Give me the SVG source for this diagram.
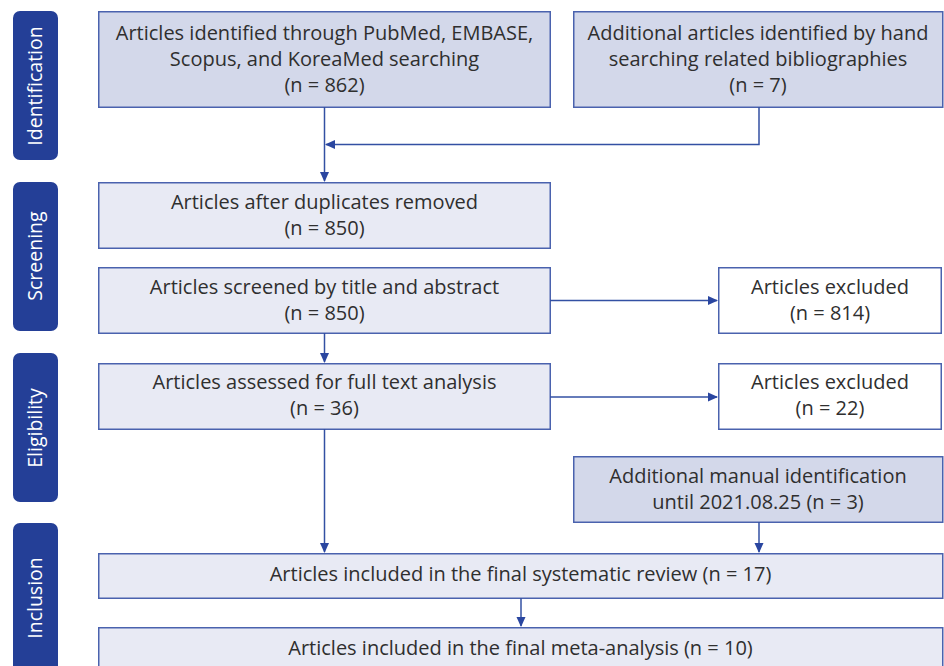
<svg xmlns="http://www.w3.org/2000/svg" width="944" height="666" viewBox="0 0 944 666">
<style>
.phase{fill:#243f97}
.ptxt{fill:#ffffff;font-family:"Open Sans","Liberation Sans",sans-serif;font-size:19.5px;text-anchor:middle}
.dark{fill:#d3d8ea;stroke:#4a62ae;stroke-width:1.5}
.light{fill:#e8eaf4;stroke:#4a62ae;stroke-width:1.5}
.white{fill:#ffffff;stroke:#4a62ae;stroke-width:1.5}
.t{fill:#2f2f2f;font-family:"Open Sans","Liberation Sans",sans-serif;font-size:20px;text-anchor:middle}
.c{fill:none;stroke:#3350a3;stroke-width:1.5}
</style>
<defs>
<marker id="ah" markerWidth="10" markerHeight="10" refX="9" refY="5" orient="auto" markerUnits="userSpaceOnUse">
<path d="M0,0.5 L10,5 L0,9.5 Z" fill="#2a46a0"/>
</marker>
</defs>
<rect width="944" height="666" fill="#ffffff"/>
<g id="phase-identification"><rect class="phase" x="13" y="11" width="45" height="149" rx="7"/><text class="ptxt" transform="translate(42,86) rotate(-90)">Identification</text></g>
<g id="phase-screening"><rect class="phase" x="13" y="182" width="45" height="149" rx="7"/><text class="ptxt" transform="translate(42,256) rotate(-90)">Screening</text></g>
<g id="phase-eligibility"><rect class="phase" x="13" y="353" width="45" height="149" rx="7"/><text class="ptxt" transform="translate(42,428) rotate(-90)">Eligibility</text></g>
<g id="phase-inclusion"><rect class="phase" x="13" y="523" width="45" height="160" rx="7"/><text class="ptxt" transform="translate(42,598) rotate(-90)">Inclusion</text></g>

<g id="n-db"><rect class="dark" x="98.75" y="11.75" width="451.5" height="95.5"/>
<text class="t" x="324.5" y="40">Articles identified through PubMed, EMBASE,</text>
<text class="t" x="324.5" y="66">Scopus, and KoreaMed searching</text>
<text class="t" x="324.5" y="92">(n = 862)</text></g>
<g id="n-hand"><rect class="dark" x="573.75" y="11.75" width="369" height="95.5"/>
<text class="t" x="758" y="40">Additional articles identified by hand</text>
<text class="t" x="758" y="66">searching related bibliographies</text>
<text class="t" x="758" y="92">(n = 7)</text></g>
<g id="n-dup"><rect class="light" x="98.75" y="182.75" width="451.5" height="65.5"/>
<text class="t" x="324.5" y="209">Articles after duplicates removed</text>
<text class="t" x="324.5" y="235">(n = 850)</text></g>
<g id="n-screen"><rect class="light" x="98.75" y="267.75" width="451.5" height="65.5"/>
<text class="t" x="324.5" y="294">Articles screened by title and abstract</text>
<text class="t" x="324.5" y="320">(n = 850)</text></g>
<g id="n-ex1"><rect class="white" x="718.75" y="267.75" width="222.5" height="65.5"/>
<text class="t" x="830" y="294">Articles excluded</text>
<text class="t" x="830" y="320">(n = 814)</text></g>
<g id="n-full"><rect class="light" x="98.75" y="363.75" width="451.5" height="65.5"/>
<text class="t" x="324.5" y="389">Articles assessed for full text analysis</text>
<text class="t" x="324.5" y="415">(n = 36)</text></g>
<g id="n-ex2"><rect class="white" x="718.75" y="363.75" width="222.5" height="65.5"/>
<text class="t" x="830" y="389">Articles excluded</text>
<text class="t" x="830" y="415">(n = 22)</text></g>
<g id="n-manual"><rect class="dark" x="573.75" y="456.75" width="369" height="65.5"/>
<text class="t" x="758" y="483">Additional manual identification</text>
<text class="t" x="758" y="509">until 2021.08.25 (n = 3)</text></g>
<g id="n-sys"><rect class="light" x="98.75" y="553.75" width="844" height="44.5"/>
<text class="t" x="520.5" y="581">Articles included in the final systematic review (n = 17)</text></g>
<g id="n-meta"><rect class="light" x="98.75" y="627.75" width="844" height="50"/>
<text class="t" x="520.5" y="655">Articles included in the final meta-analysis (n = 10)</text></g>

<g id="connectors">
<path class="c" d="M324.5,107 V181" marker-end="url(#ah)"/>
<path class="c" d="M759,107 V144.5 H326" marker-end="url(#ah)"/>
<path class="c" d="M550,300.5 H717" marker-end="url(#ah)"/>
<path class="c" d="M324.5,333 V362" marker-end="url(#ah)"/>
<path class="c" d="M550,397 H717" marker-end="url(#ah)"/>
<path class="c" d="M324.5,429 V552" marker-end="url(#ah)"/>
<path class="c" d="M759,522 V552" marker-end="url(#ah)"/>
<path class="c" d="M521,598 V626" marker-end="url(#ah)"/>
</g>
</svg>
